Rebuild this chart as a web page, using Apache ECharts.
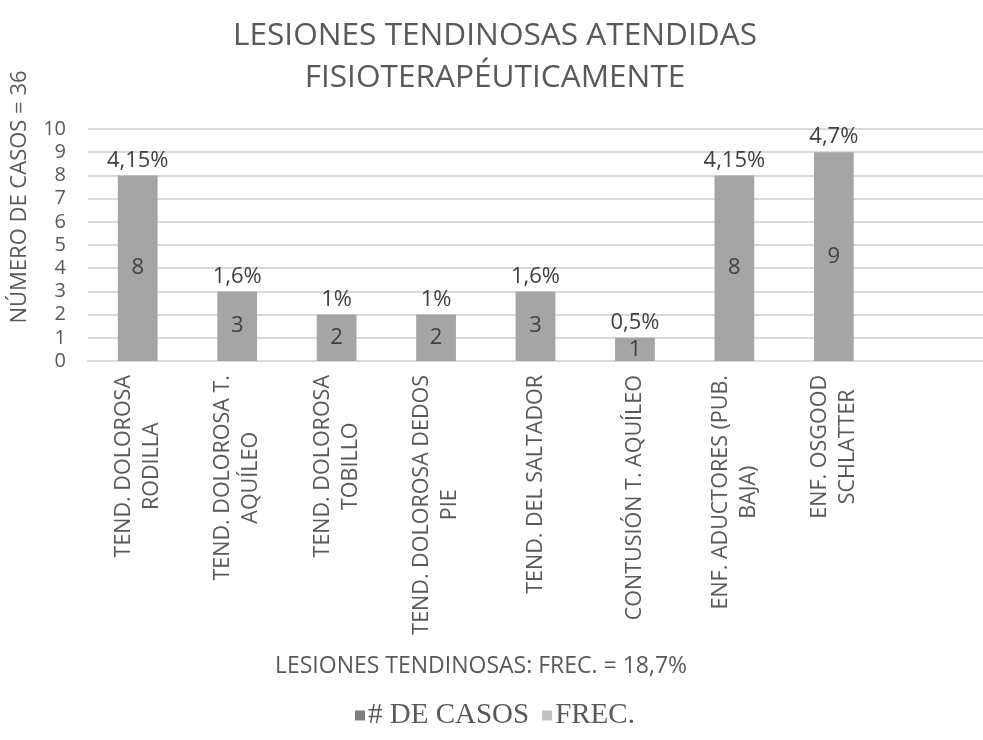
<!DOCTYPE html>
<html>
<head>
<meta charset="utf-8">
<script src="https://cdn.jsdelivr.net/npm/echarts@6/dist/echarts.min.js"></script>
<style>html,body{margin:0;padding:0;background:#fff}#c{width:983px;height:740px}</style>
</head>
<body>
<div id="c"></div>
<script>
var categories = [
  "TEND. DOLOROSA\nRODILLA",
  "TEND. DOLOROSA T.\nAQUÍLEO",
  "TEND. DOLOROSA\nTOBILLO",
  "TEND. DOLOROSA DEDOS\nPIE",
  "TEND. DEL SALTADOR",
  "CONTUSIÓN T. AQUÍLEO",
  "ENF. ADUCTORES (PUB.\nBAJA)",
  "ENF. OSGOOD\nSCHLATTER",
  ""
];
var casos = [8, 3, 2, 2, 3, 1, 8, 9, null];
var frecLabels = ["4,15%", "1,6%", "1%", "1%", "1,6%", "0,5%", "4,15%", "4,7%", ""];
var yTicks = [0, 1, 2, 3, 4, 5, 6, 7, 8, 9, 10];

var FONT = "Open Sans";
var TXT = "#595959";

var chart = echarts.init(document.getElementById('c'));
chart.setOption({
  animation: false,
  title: [{
    text: "LESIONES TENDINOSAS ATENDIDAS\nFISIOTERAPÉUTICAMENTE",
    left: 490, top: 10, textAlign: 'center',
    textStyle: {fontFamily: FONT, fontSize: 31.6, fontWeight: 'normal', color: TXT, lineHeight: 42}
  }, {
    text: "LESIONES TENDINOSAS: FREC. = 18,7%",
    left: 476, top: 650, textAlign: 'center',
    textStyle: {fontFamily: FONT, fontSize: 23, fontWeight: 'normal', color: TXT}
  }],
  graphic: [{
    type: 'text', x: 20, y: 197, rotation: Math.PI / 2,
    style: {text: "NÚMERO DE CASOS = 36", fontFamily: FONT, fontSize: 22, fill: TXT, align: 'center', verticalAlign: 'middle'}
  }],
  legend: {
    data: [
      {name: "# DE CASOS", itemStyle: {color: '#7f7f7f'}},
      {name: "FREC.", itemStyle: {color: '#bfbfbf'}}
    ],
    left: 350, top: 696, icon: 'rect', itemWidth: 10, itemHeight: 10, itemGap: 13,
    textStyle: {fontFamily: "Liberation Serif", fontSize: 29, color: TXT, padding: [0, 0, 0, -2]}
  },
  grid: {left: 88, right: -9, top: 129, bottom: 379},
  xAxis: {
    type: 'category', data: categories,
    axisLine: {lineStyle: {color: '#d9d9d9', width: 2}},
    axisTick: {show: false},
    axisLabel: {
      rotate: 90, margin: 14, interval: 0,
      formatter: function (v) { return v.split('\n').map(function (l) { return '{c|' + l + '}'; }).join('\n'); },
      rich: {c: {align: 'center', fontFamily: FONT, fontSize: 21.5, color: TXT, lineHeight: 28}}
    }
  },
  yAxis: {
    type: 'value', min: 0, max: 10, interval: 1,
    axisLine: {show: false}, axisTick: {show: false},
    splitLine: {lineStyle: {color: '#d9d9d9', width: 2}},
    axisLabel: {fontFamily: FONT, fontSize: 20, color: TXT, margin: 22,
      formatter: function (v) { return yTicks.indexOf(v) >= 0 ? String(v) : ''; }}
  },
  series: [{
    name: "# DE CASOS", type: 'bar', data: casos, barWidth: '40%', barGap: '-100%',
    itemStyle: {color: '#a5a5a5'},
    label: {show: true, position: 'inside', fontFamily: FONT, fontSize: 22, color: '#404040'},
    silent: true
  }, {
    name: "FREC.", type: 'bar', data: casos, barWidth: '40%', barGap: '-100%',
    itemStyle: {color: 'rgba(0,0,0,0)'},
    label: {show: true, position: 'top', distance: 4, fontFamily: FONT, fontSize: 22, color: '#404040',
      formatter: function (p) { return frecLabels[p.dataIndex]; }},
    silent: true
  }]
});
</script>
</body>
</html>
